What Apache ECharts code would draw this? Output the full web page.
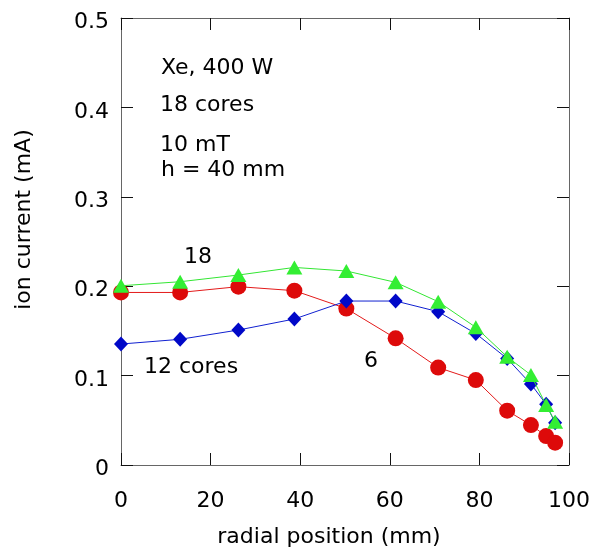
<!DOCTYPE html>
<html><head><meta charset="utf-8">
<script src="https://cdn.jsdelivr.net/npm/echarts@6/dist/echarts.min.js"></script>
<style>html,body{margin:0;padding:0;background:#fff}#c{width:594px;height:553px}</style>
</head><body><div id="c"></div>
<script>
const xTicks = [0, 20, 40, 60, 80, 100];
const yTicks = [0, 0.1, 0.2, 0.3, 0.4, 0.5];
const radial = [0, 13.2, 26.2, 38.7, 50.3, 61.3, 70.8, 79.2, 86.2, 91.5, 94.9, 96.9];
const cores6 = [0.193, 0.193, 0.1995, 0.195, 0.175, 0.1417, 0.109, 0.095, 0.0608, 0.0447, 0.0324, 0.025];
const cores12 = [0.1353, 0.1406, 0.151, 0.1633, 0.1834, 0.1834, 0.1715, 0.147, 0.119, 0.0906, 0.0679, 0.0473];
const cores18 = [0.2005, 0.205, 0.2125, 0.221, 0.217, 0.2043, 0.1827, 0.154, 0.121, 0.1007, 0.067, 0.0484];
const notes = ["Xe, 400 W", "18 cores", "10 mT", "h = 40 mm"];
const seriesLabels = ["18", "12 cores", "6"];

const font = "'DejaVu Sans', sans-serif";
const frame = '#666';
function pairs(ys){ return radial.map((x,i)=>[x, ys[i]]); }

const chart = echarts.init(document.getElementById('c'));
function axisBase(){
  return {
    axisLine:{show:true, onZero:false, lineStyle:{color:frame, width:1}},
    axisTick:{show:true, inside:true, length:12, lineStyle:{color:'#111', width:1}},
    splitLine:{show:false}
  };
}
const xMin = xTicks[0], xMax = xTicks[xTicks.length-1], xStep = xTicks[1]-xTicks[0];
const yMin = yTicks[0], yMax = yTicks[yTicks.length-1], yStep = yTicks[1]-yTicks[0];
function textEl(str, x, y){
  return {type:'text', x:x, y:y, style:{text:str, font:'22px '+font, fill:'#000', verticalAlign:'middle', align:'left'}};
}
chart.setOption({
  animation:false,
  grid:{left:121, right:25, top:18, bottom:88},
  xAxis:[
    Object.assign(axisBase(), {type:'value', min:xMin, max:xMax, interval:xStep, position:'bottom',
      axisLabel:{color:'#000', fontSize:22, fontFamily:font, margin:25, formatter:v=>String(v)},
      name:'radial position (mm)', nameLocation:'middle', nameGap:61,
      nameTextStyle:{color:'#000', fontSize:22, fontFamily:font, padding:[0,32,0,0]}}),
    Object.assign(axisBase(), {type:'value', min:xMin, max:xMax, interval:xStep, position:'top', axisLabel:{show:false}})
  ],
  yAxis:[
    Object.assign(axisBase(), {type:'value', min:yMin, max:yMax, interval:yStep, position:'left',
      axisLabel:{color:'#000', fontSize:22, fontFamily:font, margin:12, verticalAlign:'top', lineHeight:9,
        formatter:v=>v===0?'0':v.toFixed(1)},
      name:'ion current (mA)', nameLocation:'middle', nameGap:86,
      nameTextStyle:{color:'#000', fontSize:22, fontFamily:font, padding:[0,0,0,44]}}),
    Object.assign(axisBase(), {type:'value', min:yMin, max:yMax, interval:yStep, position:'right', axisLabel:{show:false}})
  ],
  series:[
    {type:'line', data:pairs(cores6), symbol:'circle', symbolSize:16, z:2,
     lineStyle:{color:'#e31a1a', width:1}, itemStyle:{color:'#dd0a0a'}},
    {type:'line', data:pairs(cores12), symbol:'diamond', symbolSize:[14,15], z:3,
     lineStyle:{color:'#1020d0', width:1}, itemStyle:{color:'#0008c8'}},
    {type:'line', data:pairs(cores18), symbol:'triangle', symbolSize:[16,14], z:4,
     lineStyle:{color:'#33e633', width:1}, itemStyle:{color:'#33ee33'}}
  ],
  graphic:[
    textEl(notes[0], 161, 68),
    textEl(notes[1], 160, 105),
    textEl(notes[2], 160, 145),
    textEl(notes[3], 161, 170),
    textEl(seriesLabels[0], 184, 257),
    textEl(seriesLabels[1], 144, 367),
    textEl(seriesLabels[2], 364, 361)
  ]
});
</script></body></html>
